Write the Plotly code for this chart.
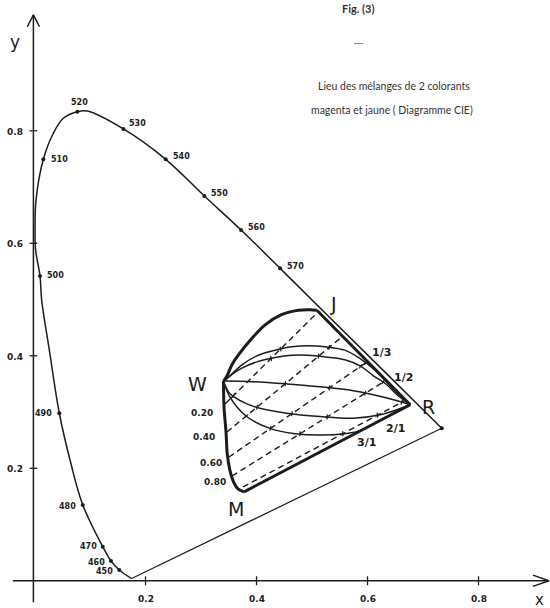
import math
import plotly.graph_objects as go

INK = "#1c1c1c"

# ---- Spectral locus (CIE 1931 x, y) -------------------------------------
wavelengths = [450, 460, 470, 480, 490, 500, 510, 520, 530, 540, 550, 560, 570]
wl_x = [0.1528, 0.1378, 0.1229, 0.0869, 0.0447, 0.0099, 0.0159, 0.0772,
        0.1601, 0.2364, 0.3060, 0.3721, 0.4424]
wl_y = [0.0192, 0.0352, 0.0606, 0.1348, 0.2978, 0.5419, 0.7493, 0.8340,
        0.8032, 0.7493, 0.6841, 0.6236, 0.5556]

# outline of the locus from the violet foot round to the red end
locus_x = [0.1750, 0.1528, 0.1378, 0.1229, 0.0869, 0.0640, 0.0447, 0.0267,
           0.0129, 0.0099, 0.0020, 0.0010, 0.0027, 0.0159, 0.0339, 0.0519,
           0.0772, 0.0952, 0.1601, 0.2364, 0.3060, 0.3721, 0.4424, 0.5191,
           0.6142, 0.7337]
locus_y = [0.0040, 0.0192, 0.0352, 0.0606, 0.1348, 0.2146, 0.2978, 0.4100,
           0.4990, 0.5419, 0.5880, 0.6300, 0.6770, 0.7493, 0.7956, 0.8222,
           0.8340, 0.8350, 0.8032, 0.7493, 0.6841, 0.6236, 0.5556, 0.4806,
           0.3878, 0.2711]

# ---- Corners of the mixing domain ---------------------------------------
corner_names = ["W", "J", "R", "M"]
corner_x = [0.3405, 0.5087, 0.6769, 0.3775]
corner_y = [0.355, 0.481, 0.313, 0.158]

# pure yellow branch W -> J
yellow_x = [0.3405, 0.3462, 0.3557, 0.3671, 0.3918, 0.4156, 0.4450, 0.4754, 0.4963, 0.5087]
yellow_y = [0.355, 0.363, 0.384, 0.401, 0.431, 0.455, 0.473, 0.481, 0.482, 0.481]

# pure magenta branch W -> M
magenta_x = [0.3405, 0.3414, 0.3452, 0.3471, 0.3519, 0.3585, 0.3661, 0.3775]
magenta_y = [0.355, 0.310, 0.262, 0.227, 0.197, 0.176, 0.164, 0.158]

# mixtures magenta/jaune, each from W to R
ratio_labels = ["1/3", "1/2", "1/1", "2/1", "3/1"]
mix_x = [
    [0.3405, 0.3462, 0.3737, 0.4032, 0.4336, 0.4631, 0.4935, 0.5239, 0.5591, 0.5866, 0.6104, 0.6446, 0.6769],
    [0.3405, 0.3519, 0.3737, 0.4032, 0.4336, 0.4631, 0.4935, 0.5239, 0.5591, 0.5866, 0.6113, 0.6342, 0.6551, 0.6769],
    [0.3405, 0.3937, 0.4555, 0.5144, 0.5743, 0.6351, 0.6769],
    [0.3405, 0.3519, 0.3946, 0.4545, 0.5144, 0.5743, 0.6227, 0.6769],
    [0.3405, 0.3519, 0.3823, 0.4241, 0.4659, 0.5144, 0.5629, 0.5866, 0.6313, 0.6769],
]
mix_y = [
    [0.355, 0.359, 0.384, 0.401, 0.410, 0.416, 0.418, 0.416, 0.410, 0.395, 0.377, 0.343, 0.313],
    [0.355, 0.364, 0.378, 0.390, 0.397, 0.401, 0.401, 0.398, 0.393, 0.382, 0.364, 0.349, 0.329, 0.313],
    [0.355, 0.354, 0.350, 0.345, 0.338, 0.325, 0.313],
    [0.355, 0.333, 0.310, 0.298, 0.292, 0.289, 0.295, 0.313],
    [0.355, 0.327, 0.292, 0.271, 0.262, 0.259, 0.262, 0.267, 0.290, 0.313],
]

# lines of equal concentration (dashed)
conc_labels = ["0.20", "0.40", "0.60", "0.80", ""]
conc_x0 = [0.3432, 0.3468, 0.3504, 0.3559, 0.3757]
conc_y0 = [0.3143, 0.2645, 0.2201, 0.1863, 0.1668]
conc_x1 = [0.5090, 0.5558, 0.5991, 0.6315, 0.6658]
conc_y1 = [0.4761, 0.4352, 0.3890, 0.3552, 0.3196]

# axes
tick_vals = [0.2, 0.4, 0.6, 0.8]
tick_text = ["0.2", "0.4", "0.6", "0.8"]

X_RANGE = [-0.0622, 0.9288]
Y_RANGE = [-0.0484, 1.0325]
W_PX, H_PX = 550, 608
SX = W_PX / (X_RANGE[1] - X_RANGE[0])   # pixels per unit of x
SY = H_PX / (Y_RANGE[1] - Y_RANGE[0])   # pixels per unit of y

fig = go.Figure()


def line(xs, ys, width=1.4, dash="solid", shape="linear"):
    fig.add_trace(go.Scatter(x=xs, y=ys, mode="lines", hoverinfo="skip",
                             line=dict(color=INK, width=width, dash=dash,
                                       shape=shape, smoothing=1.0)))


def crossing(a, b, c, d):
    """Intersection point of segments ab and cd, or None."""
    rx, ry = b[0] - a[0], b[1] - a[1]
    sx, sy = d[0] - c[0], d[1] - c[1]
    den = rx * sy - ry * sx
    if abs(den) < 1e-12:
        return None
    t = ((c[0] - a[0]) * sy - (c[1] - a[1]) * sx) / den
    u = ((c[0] - a[0]) * ry - (c[1] - a[1]) * rx) / den
    if 0 <= t <= 1 and 0 <= u <= 1:
        return a[0] + t * rx, a[1] + t * ry
    return None


# axes with open arrow heads
X_END, Y_END = 0.927, 1.006
line([-0.039, X_END], [0, 0], 1.5)
line([X_END - 0.029, X_END, X_END - 0.029], [0.010, 0, -0.010], 1.5)
line([-0.002, -0.002], [-0.038, Y_END], 1.5)
line([-0.013, -0.002, 0.009], [Y_END - 0.021, Y_END, Y_END - 0.021], 1.5)
for t in tick_vals:
    line([t, t], [-0.008, 0.008], 1.3)
    line([-0.009, 0.005], [t, t], 1.3)

# spectral locus and purple line
line(locus_x, locus_y, 1.5, shape="spline")
line([locus_x[-1], locus_x[0]], [locus_y[-1], locus_y[0]], 1.2)
fig.add_trace(go.Scatter(x=wl_x + [locus_x[-1]], y=wl_y + [locus_y[-1]], mode="markers",
                         hoverinfo="skip", marker=dict(color=INK, size=4)))

# equal-concentration dashes
for i in range(len(conc_x0)):
    line([conc_x0[i], conc_x1[i]], [conc_y0[i], conc_y1[i]], 1.4, dash="6px,4px")

# mixture curves
for xs, ys in zip(mix_x, mix_y):
    line(xs, ys, 1.5, shape="spline")

# small cross strokes where a dashed line meets a mixture curve
tk_x, tk_y = [], []
for xs, ys in zip(mix_x, mix_y):
    for i in range(len(conc_x0)):
        a, b = (conc_x0[i], conc_y0[i]), (conc_x1[i], conc_y1[i])
        for k in range(1, len(xs) - 1):
            c, d = (xs[k], ys[k]), (xs[k + 1], ys[k + 1])
            hit = crossing(a, b, c, d)
            if hit is None:
                continue
            dx, dy = (d[0] - c[0]) * SX, (d[1] - c[1]) * SY
            n = math.hypot(dx, dy)
            nx, ny = -dy / n * 2.5 / SX, dx / n * 2.5 / SY
            tk_x += [hit[0] - nx, hit[0] + nx, None]
            tk_y += [hit[1] - ny, hit[1] + ny, None]
            break
line(tk_x, tk_y, 1.2)

# thick outline of the domain
line(yellow_x, yellow_y, 3.0, shape="spline")
line([corner_x[1], corner_x[2]], [corner_y[1], corner_y[2]], 3.0)
line(magenta_x, magenta_y, 3.0, shape="spline")
line([corner_x[3], corner_x[2]], [corner_y[3], corner_y[2]], 3.0)

ann = []
hand = dict(family="DejaVu Sans", color=INK)


def note(text, x, y, size, font=hand, xanchor="center", dx=0, dy=0, paper=False):
    d = dict(text=text, x=x, y=y, showarrow=False, xanchor=xanchor, yanchor="middle",
             xshift=dx, yshift=dy, font=dict(size=size, **font))
    if paper:
        d.update(xref="paper", yref="paper")
    ann.append(d)


# wavelength labels next to their dots
wl_side = {450: ("right", -4, -2), 460: ("right", -4, -2), 470: ("right", -4, 0),
           480: ("right", -5, -2), 490: ("right", -5, 0), 500: ("left", 5, 0),
           510: ("left", 6, 0), 520: ("center", 2, 9), 530: ("left", 4, 5),
           540: ("left", 5, 3), 550: ("left", 5, 2), 560: ("left", 5, 3),
           570: ("left", 5, 2)}
for w, x, y in zip(wavelengths, wl_x, wl_y):
    anchor, dx, dy = wl_side[w]
    note(f"<b>{w}</b>", x, y, 8, xanchor=anchor, dx=dx, dy=dy)

# tick labels
for t, s in zip(tick_vals, tick_text):
    note(f"<b>{s}</b>", t, 0, 9, dy=-18)
    note(f"<b>{s}</b>", 0, t, 9, dx=-20, dy=-1)
note("y", 0, 0.958, 17, dx=-20)
note("x", X_END, 0, 15, dx=-10, dy=-19)

# corner letters
corner_shift = {"W": (-26, -3), "J": (17, 6), "R": (18, -2), "M": (-8, -17)}
for n, x, y in zip(corner_names, corner_x, corner_y):
    dx, dy = corner_shift[n]
    note(n, x, y, 19, dx=dx, dy=dy)

# ratio labels
ratio_pos = {"1/3": (381, 352), "1/2": (403, 377), "2/1": (395, 428), "3/1": (366, 443)}
for lab, (px, py) in ratio_pos.items():
    note(f"<b>{lab}</b>", px / W_PX, 1 - py / H_PX, 11, paper=True)

# concentration labels at the start of each dashed line
conc_shift = [(-23, -9), (-23, -5), (-18, -6), (-17, -6)]
for lab, x, y, (dx, dy) in zip(conc_labels, conc_x0, conc_y0, conc_shift):
    note(f"<b>{lab}</b>", x, y, 9, dx=dx, dy=dy)

# caption
cap = dict(family="Lato", color="#333333")
note("<b>Fig. (3)</b>", 358 / W_PX, 1 - 9 / H_PX, 11, font=cap, paper=True)
note("<b>---</b>", 358 / W_PX, 1 - 43 / H_PX, 8, font=cap, paper=True)
note("Lieu des mélanges de 2 colorants", 394 / W_PX, 1 - 86 / H_PX, 10.5, font=cap, paper=True)
note("magenta et jaune ( Diagramme CIE)", 392 / W_PX, 1 - 110 / H_PX, 10.5, font=cap, paper=True)

fig.update_layout(
    width=W_PX, height=H_PX, margin=dict(l=0, r=0, t=0, b=0),
    paper_bgcolor="white", plot_bgcolor="white", showlegend=False,
    xaxis=dict(range=X_RANGE, visible=False),
    yaxis=dict(range=Y_RANGE, visible=False),
    annotations=ann,
)

fig.write_html("out.html")
